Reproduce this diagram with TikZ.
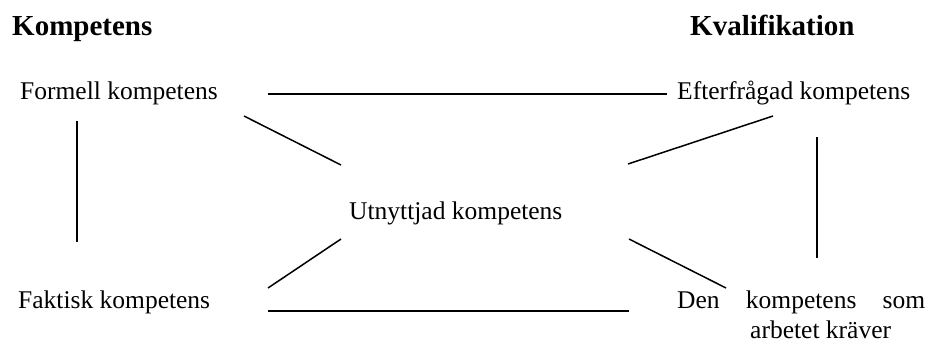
\documentclass[tikz,border=0pt]{standalone}
\usepackage{fontspec}
\setmainfont{Liberation Serif}
\begin{document}
\begin{tikzpicture}[x=1pt,y=-1pt,
  lbl/.style={anchor=base west,inner sep=0pt,font=\fontsize{25.5}{30}\selectfont},
  head/.style={anchor=base west,inner sep=0pt,font=\fontsize{29}{34}\selectfont\bfseries},
  conn/.style={line width=1.5pt}]
\useasboundingbox (0,0) rectangle (928,349);
\node[head] (h1) at (12,35) {Kompetens};
\node[head] (h2) at (690,35) {Kvalifikation};
\node[lbl] (formell) at (20,99) {Formell kompetens};
\node[lbl] (efter) at (677,99) {Efterfrågad kompetens};
\node[lbl] (utn) at (349,219) {Utnyttjad kompetens};
\node[lbl] (faktisk) at (18,308) {Faktisk kompetens};
\node[lbl] (den) at (677,308) {\hbox to 248pt{Den\hfill kompetens\hfill som}};
\node[lbl] (den2) at (750,338) {arbetet kräver};
% connector end points
\coordinate (a1) at (268,94);   \coordinate (a2) at (667,94);
\coordinate (b1) at (244,116);  \coordinate (b2) at (341,165);
\coordinate (c1) at (77,121);   \coordinate (c2) at (77,242);
\coordinate (d1) at (773,116);  \coordinate (d2) at (628,164);
\coordinate (e1) at (817,137);  \coordinate (e2) at (817,258);
\coordinate (f1) at (341,239);  \coordinate (f2) at (268,288);
\coordinate (g1) at (629,239);  \coordinate (g2) at (726,288);
\coordinate (k1) at (268,311);  \coordinate (k2) at (629,311);
\draw[conn] (a1) -- (a2);
\draw[conn] (b1) -- (b2);
\draw[conn] (c1) -- (c2);
\draw[conn] (d1) -- (d2);
\draw[conn] (e1) -- (e2);
\draw[conn] (f1) -- (f2);
\draw[conn] (g1) -- (g2);
\draw[conn] (k1) -- (k2);
\end{tikzpicture}
\end{document}
